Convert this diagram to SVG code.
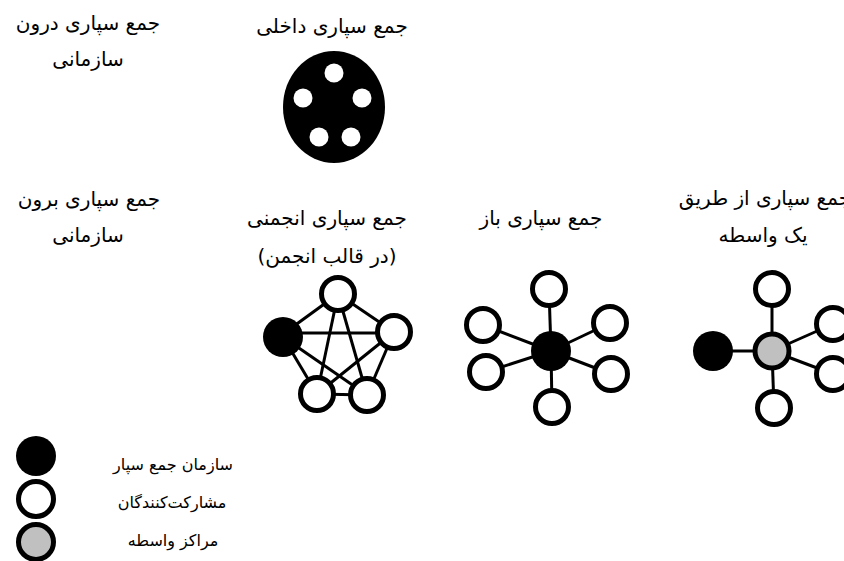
<svg xmlns="http://www.w3.org/2000/svg" width="844" height="561" viewBox="0 0 844 561">
<style>
  text { font-family: "DejaVu Sans", "Noto Sans", sans-serif; font-size: 20px; fill: #000; text-anchor: middle; }
  .lg { font-size: 16px; }
  .edge { stroke: #000; stroke-width: 3; fill: none; }
  .org { fill: #000; }
  .part { fill: #fff; stroke: #000; stroke-width: 5; }
  .med { fill: #c0c0c0; stroke: #000; stroke-width: 5; }
  .hole { fill: #fff; }
</style>
<rect width="844" height="561" fill="#fff"/>

<g id="label-inner">
  <text x="88" y="30">جمع سپاری درون</text>
  <text x="88" y="66">سازمانی</text>
</g>
<g id="label-outer">
  <text x="89" y="206">جمع سپاری برون</text>
  <text x="88" y="242">سازمانی</text>
</g>

<g id="internal">
  <text x="332" y="33">جمع سپاری داخلی</text>
  <ellipse cx="334" cy="107" rx="51" ry="56" class="org"/>
  <circle cx="334" cy="73" r="9.5" class="hole"/>
  <circle cx="303" cy="98" r="9.5" class="hole"/>
  <circle cx="362" cy="98" r="9.5" class="hole"/>
  <circle cx="319" cy="137" r="9.5" class="hole"/>
  <circle cx="351" cy="137" r="9.5" class="hole"/>
</g>

<g id="connectors">
  <!-- community (pentagon, complete graph) -->
  <line class="edge" x1="283" y1="334" x2="338" y2="294"/>
  <line class="edge" x1="338" y1="294" x2="394" y2="332"/>
  <line class="edge" x1="283" y1="333" x2="394" y2="333"/>
  <line class="edge" x1="283" y1="337" x2="317" y2="394"/>
  <line class="edge" x1="394" y1="332" x2="367" y2="395"/>
  <line class="edge" x1="317" y1="394" x2="367" y2="395"/>
  <line class="edge" x1="338" y1="294" x2="317" y2="394"/>
  <line class="edge" x1="338" y1="294" x2="367" y2="395"/>
  <line class="edge" x1="283" y1="337" x2="367" y2="395"/>
  <line class="edge" x1="394" y1="332" x2="317" y2="394"/>
  <!-- open (star) -->
  <line class="edge" x1="551" y1="351" x2="549" y2="289"/>
  <line class="edge" x1="551" y1="351" x2="483" y2="325"/>
  <line class="edge" x1="551" y1="351" x2="610" y2="323"/>
  <line class="edge" x1="551" y1="351" x2="486" y2="372"/>
  <line class="edge" x1="551" y1="351" x2="611" y2="374"/>
  <line class="edge" x1="551" y1="351" x2="552" y2="407"/>
  <!-- mediator -->
  <line class="edge" x1="713" y1="351" x2="772" y2="351"/>
  <line class="edge" x1="772" y1="351" x2="772" y2="289"/>
  <line class="edge" x1="772" y1="351" x2="774" y2="408"/>
  <line class="edge" x1="772" y1="351" x2="833" y2="324"/>
  <line class="edge" x1="772" y1="351" x2="833" y2="374"/>
</g>

<g id="community">
  <text x="327" y="225">جمع سپاری انجمنی</text>
  <text x="327" y="263">(در قالب انجمن)</text>
  <circle cx="338" cy="294" r="16.5" class="part"/>
  <circle cx="283" cy="337" r="20" class="org"/>
  <circle cx="394" cy="332" r="16.5" class="part"/>
  <circle cx="317" cy="394" r="16.5" class="part"/>
  <circle cx="367" cy="395" r="16.5" class="part"/>
</g>

<g id="open">
  <text x="541" y="225">جمع سپاری باز</text>
  <circle cx="551" cy="351" r="20" class="org"/>
  <circle cx="549" cy="289" r="16.5" class="part"/>
  <circle cx="483" cy="325" r="16.5" class="part"/>
  <circle cx="610" cy="323" r="16.5" class="part"/>
  <circle cx="486" cy="372" r="16.5" class="part"/>
  <circle cx="611" cy="374" r="16.5" class="part"/>
  <circle cx="552" cy="407" r="16.5" class="part"/>
</g>

<g id="mediator">
  <text x="765" y="205">جمع سپاری از طریق</text>
  <text x="763" y="242">یک واسطه</text>
  <circle cx="713" cy="351" r="20" class="org"/>
  <circle cx="772" cy="351" r="17" class="med"/>
  <circle cx="772" cy="289" r="16.5" class="part"/>
  <circle cx="774" cy="408" r="16.5" class="part"/>
  <circle cx="833" cy="324" r="16.5" class="part"/>
  <circle cx="833" cy="374" r="16.5" class="part"/>
</g>

<g id="legend">
  <circle cx="36" cy="456" r="20" class="org"/>
  <circle cx="36" cy="499" r="17.5" class="part"/>
  <circle cx="36" cy="542" r="17.5" class="med"/>
  <text class="lg" x="173" y="470">سازمان جمع سپار</text>
  <text class="lg" x="172" y="508">مشارکت‌کنندگان</text>
  <text class="lg" x="173" y="546">مراکز واسطه</text>
</g>
</svg>
